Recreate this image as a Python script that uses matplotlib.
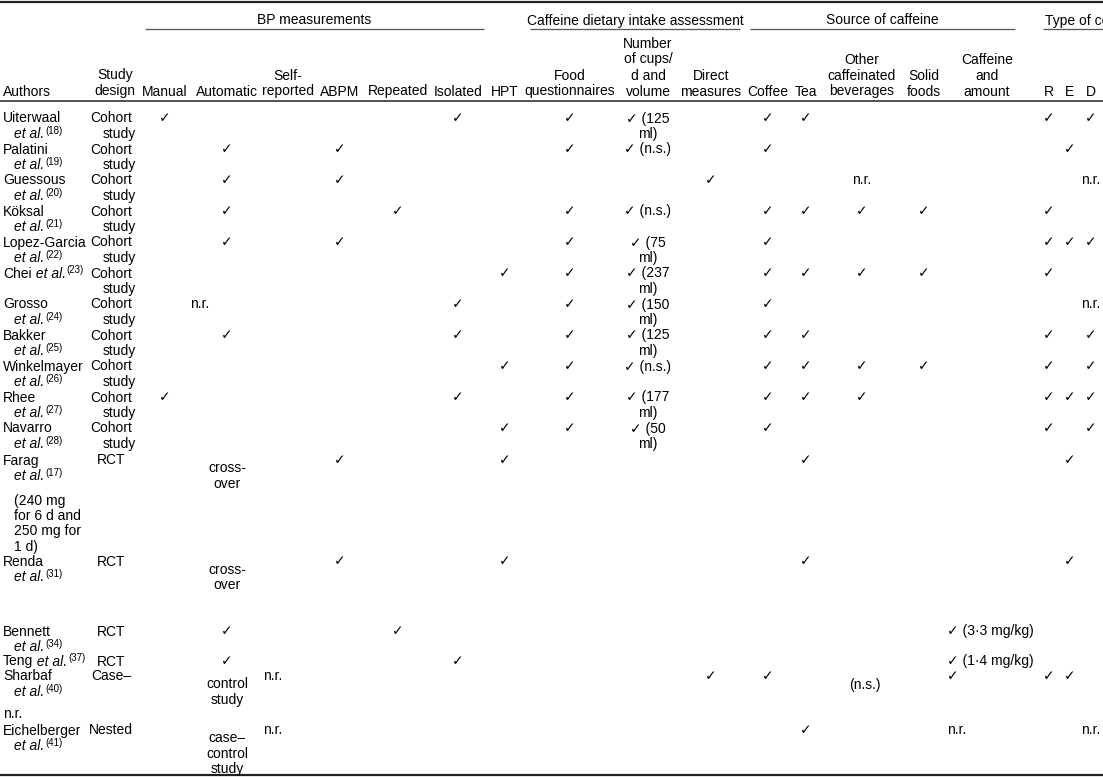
import matplotlib
matplotlib.use("Agg")
import matplotlib.pyplot as plt

plt.rcParams['font.family'] = ['Liberation Sans', 'DejaVu Sans']

C = "\u2713"

# Table content
authors = ["Uiterwaal", "Palatini", "Guessous", "Köksal", "Lopez-Garcia", "Chei",
           "Grosso", "Bakker", "Winkelmayer", "Rhee", "Navarro", "Farag", "Renda",
           "Bennett", "Teng", "Sharbaf", "Eichelberger"]
refs = ["18", "19", "20", "21", "22", "23", "24", "25", "26", "27", "28", "17",
        "31", "34", "37", "40", "41"]
same_line = ["Chei", "Teng"]
author_notes = {"Farag": ["(240 mg", "for 6 d and", "250 mg for", "1 d)"],
                "Sharbaf": ["n.r."]}
designs = [["Cohort", "study"]] * 11 + [["RCT"], ["RCT"], ["RCT"], ["RCT"], ["Case–"], ["Nested"]]
design_spill = {"Farag": ["cross-", "over"], "Renda": ["cross-", "over"],
                "Sharbaf": ["control", "study"], "Eichelberger": ["case–", "control", "study"]}

groups = ["BP measurements", "Caffeine dietary intake assessment", "Source of caffeine", "Type of coffee"]

col_keys = ["man", "auto", "self", "abpm", "rep", "iso", "hpt", "food", "cups", "direct",
            "coffee", "tea", "other", "solid", "amount", "R", "E", "D"]
col_labels = {"man": ["Manual"], "auto": ["Automatic"], "self": ["Self-", "reported"],
              "abpm": ["ABPM"], "rep": ["Repeated"], "iso": ["Isolated"], "hpt": ["HPT"],
              "food": ["Food", "questionnaires"], "cups": ["Number", "of cups/", "d and", "volume"],
              "direct": ["Direct", "measures"], "coffee": ["Coffee"], "tea": ["Tea"],
              "other": ["Other", "caffeinated", "beverages"], "solid": ["Solid", "foods"],
              "amount": ["Caffeine", "and", "amount"], "R": ["R"], "E": ["E"], "D": ["D"]}

cells = [
    {"man": C, "iso": C, "food": C, "cups": C + " (125\nml)", "coffee": C, "tea": C, "R": C, "D": C},
    {"auto": C, "abpm": C, "food": C, "cups": C + " (n.s.)", "coffee": C, "E": C},
    {"auto": C, "abpm": C, "direct": C, "other": "n.r.", "D": "n.r."},
    {"auto": C, "rep": C, "food": C, "cups": C + " (n.s.)", "coffee": C, "tea": C, "other": C, "solid": C, "R": C},
    {"auto": C, "abpm": C, "food": C, "cups": C + " (75\nml)", "coffee": C, "R": C, "E": C, "D": C},
    {"hpt": C, "food": C, "cups": C + " (237\nml)", "coffee": C, "tea": C, "other": C, "solid": C, "R": C},
    {"auto_nr": "n.r.", "iso": C, "food": C, "cups": C + " (150\nml)", "coffee": C, "D": "n.r."},
    {"auto": C, "iso": C, "food": C, "cups": C + " (125\nml)", "coffee": C, "tea": C, "R": C, "D": C},
    {"hpt": C, "food": C, "cups": C + " (n.s.)", "coffee": C, "tea": C, "other": C, "solid": C, "R": C, "D": C},
    {"man": C, "iso": C, "food": C, "cups": C + " (177\nml)", "coffee": C, "tea": C, "other": C, "R": C, "E": C, "D": C},
    {"hpt": C, "food": C, "cups": C + " (50\nml)", "coffee": C, "R": C, "D": C},
    {"abpm": C, "hpt": C, "tea": C, "E": C},
    {"abpm": C, "hpt": C, "tea": C, "E": C},
    {"auto": C, "rep": C, "amount": C + " (3·3 mg/kg)"},
    {"auto": C, "iso": C, "amount": C + " (1·4 mg/kg)"},
    {"self_nr": "n.r.", "direct": C, "coffee": C, "other_ns": "(n.s.)", "amount": C, "R": C, "E": C},
    {"self_nr": "n.r.", "tea": C, "amount": "n.r.", "D": "n.r."},
]

# Layout (pixels)
W, H = 1103, 777
col_x = {"man": 165, "auto": 227, "self": 288, "abpm": 340, "rep": 398, "iso": 458,
         "hpt": 505, "food": 570, "cups": 648, "direct": 711, "coffee": 768, "tea": 806,
         "other": 862, "solid": 924, "amount": 987, "R": 1049, "E": 1070, "D": 1091,
         "auto_nr": 200, "self_nr": 273, "other_ns": 865}
amount_left = 947
row_y = [117, 148, 179, 210, 241, 272, 303, 334, 365, 396, 427, 459, 560, 630, 660, 675, 729]
group_span = [(145, 484), (530, 740), (750, 1015), (1043, 1110)]
pitch = 15.5
fs = 10

fig = plt.figure(figsize=(W / 100, H / 100), dpi=100)
ax = fig.add_axes([0, 0, 1, 1])
ax.set_xlim(0, W)
ax.set_ylim(H, 0)
ax.axis("off")


def put(x, y, s, ha="center", size=fs, style="normal"):
    return ax.text(x, y, s, ha=ha, va="center_baseline", fontsize=size,
                   color="black", style=style)


def sup(parent, ref):
    ax.annotate("(" + ref + ")", xy=(1, 1), xycoords=parent, xytext=(0.6, 0.8),
                textcoords="offset points", ha="left", va="top", fontsize=7)


# rules
ax.hlines([1.5], 0, W, color="#222222", lw=1.6)
ax.hlines([101], 0, W, color="#333333", lw=1.2)
ax.hlines([775], 0, W, color="#222222", lw=1.6)

# group headers
for name, (x0, x1) in zip(groups, group_span):
    ax.hlines(29, x0, x1, color="#555555", lw=0.9)
    if x1 > W:
        put(x0 + 2, 19, name, ha="left")
    else:
        put((x0 + x1) / 2, 19, name)

# column headers
put(3, 90, "Authors", ha="left")
put(115, 74, "Study")
put(115, 90, "design")
for key in col_keys:
    lines = col_labels[key]
    for i, ln in enumerate(lines):
        put(col_x[key], 90 - (len(lines) - 1 - i) * 16, ln)

# body
for r, name in enumerate(authors):
    y = row_y[r]
    if name in same_line:
        n = put(3, y, name, ha="left")
        e = ax.annotate(" et al.", xy=(1, 0), xycoords=n, ha="left", va="bottom",
                        fontsize=fs, style="italic")
    else:
        put(3, y, name, ha="left")
        e = put(14, y + pitch, "et al.", ha="left", style="italic")
    sup(e, refs[r])
    if name in author_notes:
        notes = author_notes[name]
        if name == "Farag":
            for i, ln in enumerate(notes):
                put(14, y + 2 * pitch + 9 + i * pitch, ln, ha="left")
        else:
            put(3, y + 2 * pitch + 7, notes[0], ha="left")
    d = designs[r]
    put(111, y, d[0])
    if len(d) > 1:
        put(119, y + pitch, d[1])
    if name in design_spill:
        for i, ln in enumerate(design_spill[name]):
            put(col_x["auto"], y + 8 + i * pitch, ln)
    for key, val in cells[r].items():
        yy = y + 8 if key == "other_ns" else y
        for i, ln in enumerate(val.split("\n")):
            if key == "amount":
                put(amount_left, yy + i * pitch, ln, ha="left")
            else:
                put(col_x[key], yy + i * pitch, ln)

fig.savefig("out.png", dpi=100)
